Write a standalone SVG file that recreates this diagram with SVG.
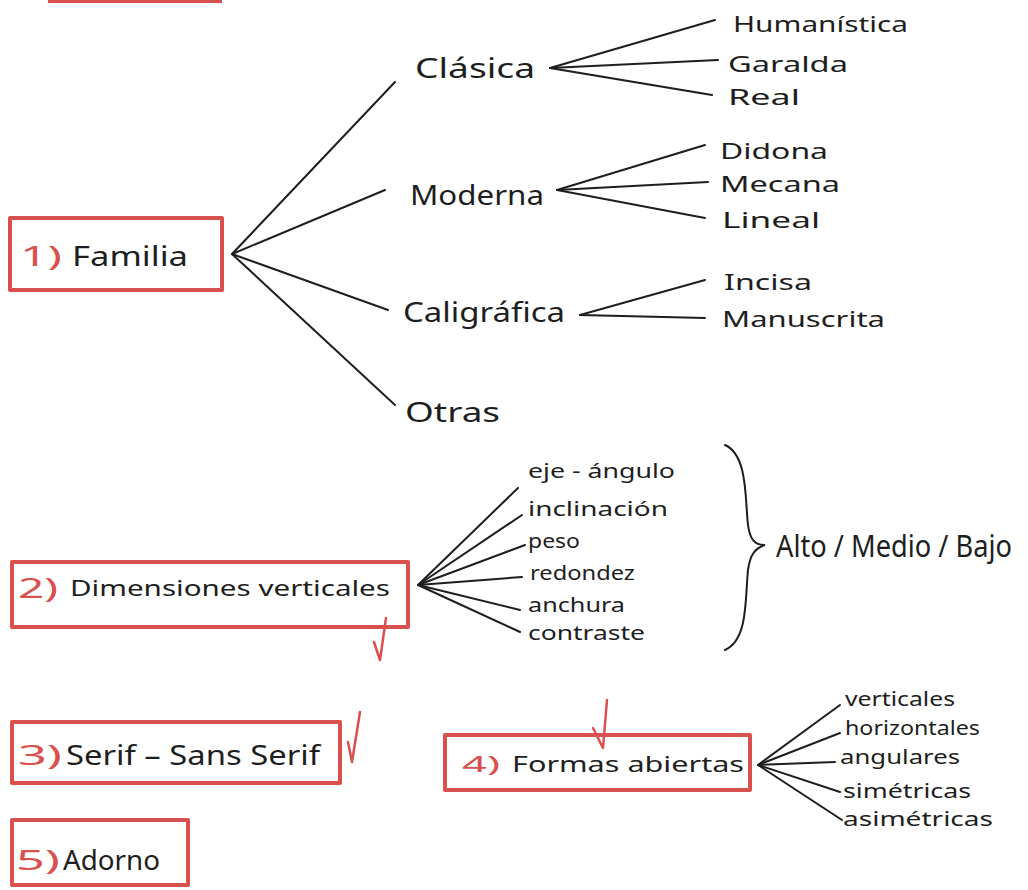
<svg xmlns="http://www.w3.org/2000/svg" width="1028" height="890" viewBox="0 0 1028 890">
<style>
.bg{fill:#ffffff}
.box{fill:none;stroke:#d8514f;stroke-width:4;stroke-linejoin:round}
.tick{fill:none;stroke:#d8514f;stroke-width:2.5;stroke-linecap:round;stroke-linejoin:round}
.ln{fill:none;stroke:#1e1e1e;stroke-width:2;stroke-linecap:round}
.t{font-family:"Noto Sans","DejaVu Sans",sans-serif;fill:#1e1e1e}
.r{font-family:"Noto Sans","DejaVu Sans",sans-serif;fill:#d8514f}
.l{font-size:27px}
.m{font-size:22px}
.s{font-size:20px}
.xl{font-size:25px}
</style>
<rect class="bg" x="0" y="0" width="1028" height="890"/>
<line x1="48" y1="1" x2="222" y2="1" class="box"/>

<g id="connectors">
<line class="ln" x1="232" y1="254" x2="395" y2="82"/>
<line class="ln" x1="232" y1="254" x2="385" y2="190"/>
<line class="ln" x1="232" y1="254" x2="388" y2="310"/>
<line class="ln" x1="232" y1="254" x2="395" y2="405"/>
<line class="ln" x1="550" y1="68" x2="715" y2="20"/>
<line class="ln" x1="550" y1="68" x2="718" y2="60"/>
<line class="ln" x1="550" y1="68" x2="712" y2="95"/>
<line class="ln" x1="557" y1="190" x2="705" y2="145"/>
<line class="ln" x1="557" y1="190" x2="708" y2="182"/>
<line class="ln" x1="557" y1="190" x2="705" y2="218"/>
<line class="ln" x1="580" y1="315" x2="705" y2="280"/>
<line class="ln" x1="580" y1="315" x2="705" y2="318"/>
<line class="ln" x1="418" y1="585" x2="518" y2="488"/>
<line class="ln" x1="418" y1="585" x2="522" y2="515"/>
<line class="ln" x1="418" y1="585" x2="525" y2="545"/>
<line class="ln" x1="418" y1="585" x2="522" y2="577"/>
<line class="ln" x1="418" y1="585" x2="520" y2="610"/>
<line class="ln" x1="418" y1="585" x2="520" y2="632"/>
<line class="ln" x1="758" y1="765" x2="840" y2="705"/>
<line class="ln" x1="758" y1="765" x2="840" y2="733"/>
<line class="ln" x1="758" y1="765" x2="835" y2="762"/>
<line class="ln" x1="758" y1="765" x2="840" y2="792"/>
<line class="ln" x1="758" y1="765" x2="842" y2="820"/>
<path class="ln" d="M725,445 C748,455 745,500 748,525 C750,540 755,545 765,545 C755,548 750,555 748,570 C745,600 748,640 725,650"/>
</g>

<g id="n1">
<rect class="box" x="10" y="218" width="212" height="72"/>
<text class="r l" x="20" y="266" textLength="42" lengthAdjust="spacingAndGlyphs">1)</text>
<text class="t l" x="72" y="266" textLength="116" lengthAdjust="spacingAndGlyphs">Familia</text>
</g>
<g id="clasica"><text class="t l" x="415" y="78" textLength="120" lengthAdjust="spacingAndGlyphs">Clásica</text></g>
<g id="humanistica"><text class="t m" x="733" y="32" textLength="175" lengthAdjust="spacingAndGlyphs">Humanística</text></g>
<g id="garalda"><text class="t m" x="728" y="72" textLength="120" lengthAdjust="spacingAndGlyphs">Garalda</text></g>
<g id="real"><text class="t m" x="728" y="105" textLength="72" lengthAdjust="spacingAndGlyphs">Real</text></g>
<g id="moderna"><text class="t l" x="410" y="205" textLength="134" lengthAdjust="spacingAndGlyphs">Moderna</text></g>
<g id="didona"><text class="t m" x="720" y="159" textLength="108" lengthAdjust="spacingAndGlyphs">Didona</text></g>
<g id="mecana"><text class="t m" x="720" y="192" textLength="120" lengthAdjust="spacingAndGlyphs">Mecana</text></g>
<g id="lineal"><text class="t m" x="722" y="228" textLength="98" lengthAdjust="spacingAndGlyphs">Lineal</text></g>
<g id="caligrafica"><text class="t l" x="403" y="322" textLength="162" lengthAdjust="spacingAndGlyphs">Caligráfica</text></g>
<g id="incisa"><text class="t m" x="724" y="290" textLength="88" lengthAdjust="spacingAndGlyphs">Incisa</text></g>
<g id="manuscrita"><text class="t m" x="722" y="327" textLength="163" lengthAdjust="spacingAndGlyphs">Manuscrita</text></g>
<g id="otras"><text class="t l" x="405" y="422" textLength="95" lengthAdjust="spacingAndGlyphs">Otras</text></g>

<g id="n2">
<rect class="box" x="12" y="562" width="396" height="65"/>
<text class="r l" x="18" y="598" textLength="40" lengthAdjust="spacingAndGlyphs">2)</text>
<text class="t m" x="70" y="596" textLength="320" lengthAdjust="spacingAndGlyphs">Dimensiones  verticales</text>
<path class="tick" d="M374,642 L380,660 L386,618"/>
</g>
<g id="eje"><text class="t s" x="528" y="478" textLength="147" lengthAdjust="spacingAndGlyphs">eje - ángulo</text></g>
<g id="inclinacion"><text class="t s" x="528" y="516" textLength="140" lengthAdjust="spacingAndGlyphs">inclinación</text></g>
<g id="peso"><text class="t s" x="528" y="548" textLength="52" lengthAdjust="spacingAndGlyphs">peso</text></g>
<g id="redondez"><text class="t s" x="530" y="580" textLength="105" lengthAdjust="spacingAndGlyphs">redondez</text></g>
<g id="anchura"><text class="t s" x="528" y="612" textLength="97" lengthAdjust="spacingAndGlyphs">anchura</text></g>
<g id="contraste"><text class="t s" x="528" y="640" textLength="117" lengthAdjust="spacingAndGlyphs">contraste</text></g>
<g id="altomediobajo"><text class="t xl" transform="translate(776,557) scale(1,1.25)" x="0" y="0" textLength="236" lengthAdjust="spacingAndGlyphs">Alto / Medio / Bajo</text></g>

<g id="n3">
<rect class="box" x="12" y="722" width="328" height="61"/>
<text class="r l" x="18" y="765" textLength="44" lengthAdjust="spacingAndGlyphs">3)</text>
<text class="t l" x="66" y="765" textLength="254" lengthAdjust="spacingAndGlyphs">Serif – Sans Serif</text>
<path class="tick" d="M348,742 L352,762 L360,712"/>
</g>

<g id="n4">
<rect class="box" x="445" y="735" width="305" height="55"/>
<text class="r m" x="462" y="772" textLength="38" lengthAdjust="spacingAndGlyphs">4)</text>
<text class="t m" x="512" y="772" textLength="232" lengthAdjust="spacingAndGlyphs">Formas  abiertas</text>
<path class="tick" d="M593,728 L603,748 L607,700"/>
</g>
<g id="verticales"><text class="t s" x="845" y="706" textLength="110" lengthAdjust="spacingAndGlyphs">verticales</text></g>
<g id="horizontales"><text class="t s" x="845" y="735" textLength="135" lengthAdjust="spacingAndGlyphs">horizontales</text></g>
<g id="angulares"><text class="t s" x="840" y="764" textLength="120" lengthAdjust="spacingAndGlyphs">angulares</text></g>
<g id="simetricas"><text class="t s" x="843" y="798" textLength="128" lengthAdjust="spacingAndGlyphs">simétricas</text></g>
<g id="asimetricas"><text class="t s" x="843" y="826" textLength="150" lengthAdjust="spacingAndGlyphs">asimétricas</text></g>

<g id="n5">
<rect class="box" x="12" y="820" width="176" height="65"/>
<text class="r l" x="16" y="870" textLength="44" lengthAdjust="spacingAndGlyphs">5)</text>
<text class="t l" x="63" y="870" textLength="97" lengthAdjust="spacingAndGlyphs">Adorno</text>
</g>
</svg>
